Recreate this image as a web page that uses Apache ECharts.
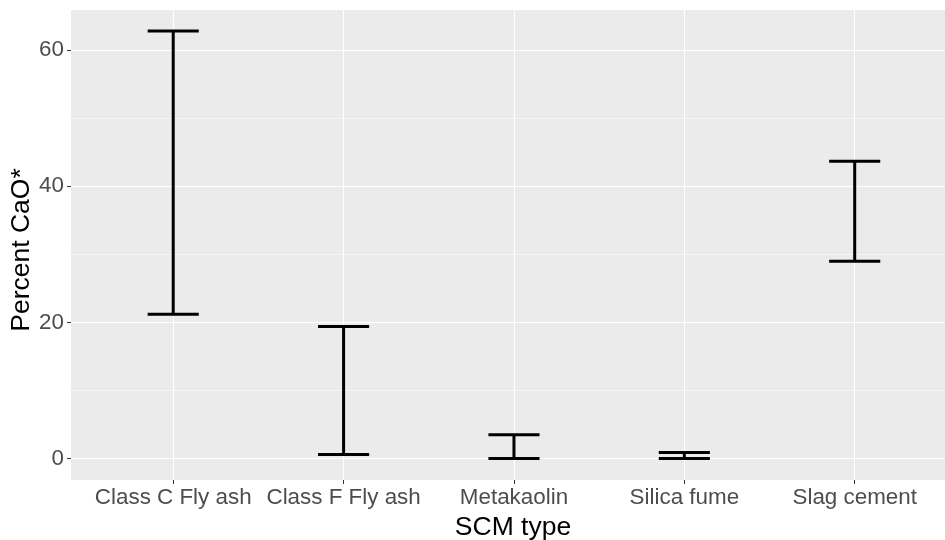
<!DOCTYPE html>
<html lang="en">
<head>
    <meta charset="utf-8">
    <title>Percent CaO by SCM type</title>
    <script src="https://cdn.jsdelivr.net/npm/echarts@6/dist/echarts.min.js"></script>
    <style>
        html, body { margin: 0; padding: 0; background: #fff; }
        #chart { width: 945px; height: 540px; }
    </style>
</head>
<body>
<div id="chart"></div>
<script>
    // categories and the range (low / high) of CaO for each
    const scmTypes = ['Class C Fly ash', 'Class F Fly ash', 'Metakaolin', 'Silica fume', 'Slag cement'];
    const cao_low = [21.2, 0.6, 0.0, 0.0, 29.0];
    const cao_high = [62.8, 19.4, 3.5, 0.9, 43.7];
    const yMajorTicks = [0, 20, 40, 60];
    const yMinorTicks = [10, 30, 50];

    const chart = echarts.init(document.getElementById('chart'));

    // position of each category on a numeric x scale: 1..n
    const catPos = scmTypes.map((c, i) => i + 1);
    const barData = scmTypes.map((c, i) => [catPos[i], cao_low[i], cao_high[i]]);

    const font = 'Liberation Sans, Arial, sans-serif';

    const option = {
        animation: false,
        grid: {
            left: 71,
            right: 0,
            top: 10,
            bottom: 60,
            outerBoundsMode: 'none',
            containLabel: false,
            show: true,
            backgroundColor: '#EBEBEB',
            borderWidth: 0
        },
        xAxis: {
            type: 'value',
            min: 0.4,
            max: 5.53,
            name: 'SCM type',
            nameLocation: 'middle',
            nameGap: 31,
            nameTextStyle: { fontFamily: font, fontSize: 26.5, color: '#000', padding: [0, 0, 0, 10] },
            axisLine: { show: false, onZero: false },
            axisTick: {
                show: true,
                customValues: catPos,
                length: 4,
                lineStyle: { color: '#333', width: 1 }
            },
            axisLabel: {
                customValues: catPos,
                formatter: v => scmTypes[Math.round(v) - 1] || '',
                fontFamily: font,
                fontSize: 22.4,
                color: '#4D4D4D',
                margin: 7
            },
            splitLine: { show: true, lineStyle: { color: '#fff', width: 1.1 } }
        },
        yAxis: [{
            type: 'value',
            min: -3.14,
            max: 65.9,
            name: 'Percent CaO*',
            nameLocation: 'middle',
            nameGap: 36,
            nameMoveOverlap: false,
            nameTextStyle: { fontFamily: font, fontSize: 26.5, color: '#000', padding: [0, 10, 0, 0] },
            axisLine: { show: false, onZero: false },
            axisTick: {
                show: true,
                customValues: yMajorTicks,
                length: 4,
                lineStyle: { color: '#333', width: 1 }
            },
            axisLabel: {
                customValues: yMajorTicks,
                fontFamily: font,
                fontSize: 22.4,
                color: '#4D4D4D',
                margin: 7
            },
            splitLine: { show: true, lineStyle: { color: '#fff', width: 1.1 } }
        }, {
            // minor grid lines only
            type: 'value',
            position: 'left',
            min: -3.14,
            max: 65.9,
            axisLine: { show: false, onZero: false },
            axisTick: { show: false, customValues: yMinorTicks },
            axisLabel: { show: false, customValues: yMinorTicks },
            splitLine: { show: true, lineStyle: { color: '#fff', width: 0.55 } }
        }],
        series: [{
            type: 'custom',
            xAxisIndex: 0,
            yAxisIndex: 0,
            data: barData,
            z: 10,
            renderItem: function (params, api) {
                const x = api.value(0);
                const lo = api.coord([x, api.value(1)]);
                const hi = api.coord([x, api.value(2)]);
                const half = api.size([0.3, 0])[0] / 2;
                const style = { stroke: '#000', lineWidth: 3, fill: null };
                return {
                    type: 'group',
                    children: [
                        { type: 'line', shape: { x1: lo[0], y1: lo[1], x2: hi[0], y2: hi[1] }, style: style },
                        { type: 'line', shape: { x1: hi[0] - half, y1: hi[1], x2: hi[0] + half, y2: hi[1] }, style: style },
                        { type: 'line', shape: { x1: lo[0] - half, y1: lo[1], x2: lo[0] + half, y2: lo[1] }, style: style }
                    ]
                };
            }
        }]
    };

    chart.setOption(option);
</script>
</body>
</html>
